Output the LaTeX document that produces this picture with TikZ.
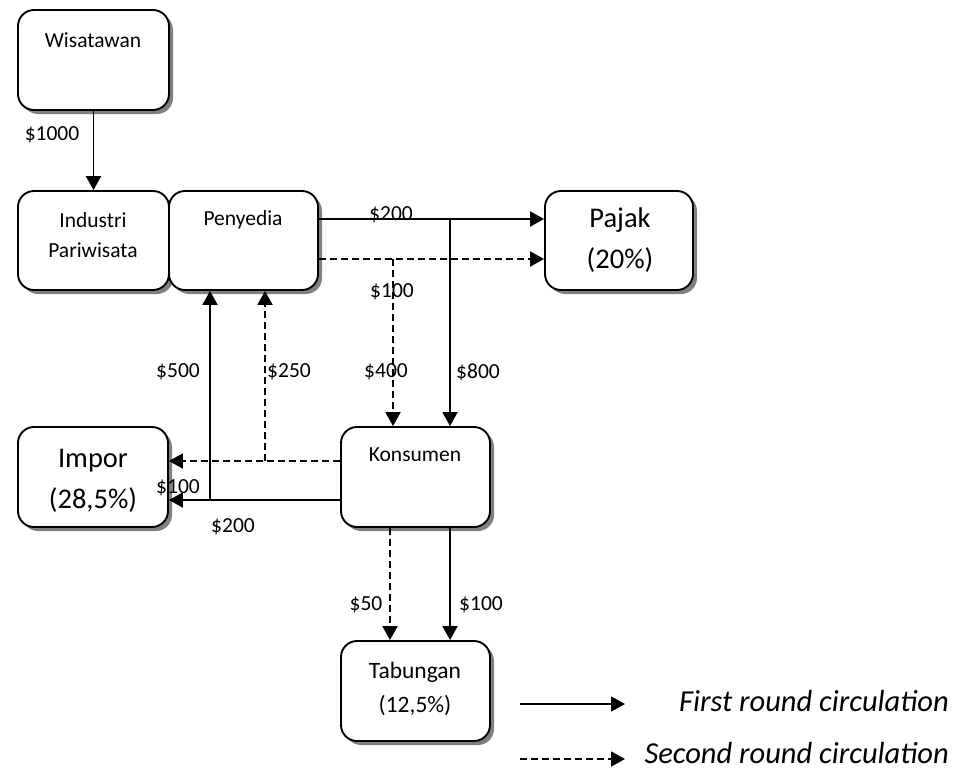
\documentclass[tikz,border=0pt]{standalone}
\usepackage{fontspec}
\setmainfont{Carlito}
\usetikzlibrary{arrows.meta,shadows,calc}
\begin{document}
\begin{tikzpicture}[x=1pt,y=-1pt,
 box/.style={draw, line width=1.9pt, rounded corners=16pt, fill=white,
   drop shadow={shadow xshift=4pt, shadow yshift=-4pt, fill=black!50, opacity=1},
   inner sep=0pt},
 flow/.style={line width=1.9pt, -{Triangle[length=14pt,width=15pt]}},
 dsh/.style={dash pattern=on 7pt off 4pt},
 sm/.style={font=\fontsize{21.5}{30}\selectfont, inner sep=0pt, align=center},
 lg/.style={font=\fontsize{28.5}{41}\selectfont, inner sep=0pt, align=center},
 md/.style={font=\fontsize{23.5}{34}\selectfont, inner sep=0pt, align=center},
 lbl/.style={font=\fontsize{21.5}{24}\selectfont, inner sep=0pt},
 leg/.style={font=\fontsize{30.5}{36}\selectfont\itshape, inner sep=0pt},
]
\useasboundingbox (0,0) rectangle (957,769);

% boxes
\node[box, minimum width=151pt, minimum height=100pt] (wis) at (93.5,60) {};
\node[box, minimum width=151pt, minimum height=99pt] (ind) at (93.5,240.5) {};
\node[box, minimum width=149pt, minimum height=99pt] (pen) at (243.5,240.5) {};
\node[box, minimum width=148pt, minimum height=99pt] (paj) at (619,240.5) {};
\node[box, minimum width=150pt, minimum height=100pt] (imp) at (93,477) {};
\node[box, minimum width=149pt, minimum height=100pt] (kon) at (415.5,477) {};
\node[box, minimum width=149pt, minimum height=100pt] (tab) at (415.5,691) {};

% box texts
\node[sm] (wisT) at (93,40) {Wisatawan};
\node[sm] (indT) at (93,235) {Industri\\Pariwisata};
\node[sm] (penT) at (243,220) {Penyedia};
\node[lg] (pajT) at (620,240) {Pajak\\(20\%)};
\node[lg] (impT) at (93,481) {Impor\\(28,5\%)};
\node[sm] (konT) at (415,455) {Konsumen};
\node[md] (tabT) at (415,689) {Tabungan\\(12,5\%)};

% junctions
\coordinate (j1) at (450,219);
\coordinate (j2) at (393,259);
\coordinate (j3) at (210,500);
\coordinate (j4) at (265,461);
\coordinate (j5) at (390,600);
\coordinate (j6) at (450,600);

% connectors
\draw[flow] (wis.south) -- (ind.north);
\draw[flow] (pen.east |- j1) -- (paj.west |- j1);
\draw[flow] (j1) -- (j1 |- kon.north);
\draw[flow,dsh] (pen.east |- j2) -- (paj.west |- j2);
\draw[flow,dsh] (j2) -- (j2 |- kon.north);
\draw[flow] (kon.west |- j3) -- (imp.east |- j3);
\draw[flow] (j3) -- (j3 |- pen.south);
\draw[flow,dsh] (kon.west |- j4) -- (imp.east |- j4);
\draw[flow,dsh] (j4) -- (j4 |- pen.south);
\draw[flow,dsh] (j5 |- kon.south) -- (j5 |- tab.north);
\draw[flow] (j6 |- kon.south) -- (j6 |- tab.north);

% labels
\node[lbl] (l1000) at (52,135) {\$1000};
\node[lbl] (l200a) at (391,215) {\$200};
\node[lbl] (l100a) at (392,292) {\$100};
\node[lbl] (l500) at (178,372) {\$500};
\node[lbl] (l250) at (289,372) {\$250};
\node[lbl] (l400) at (386,372) {\$400};
\node[lbl] (l800) at (478,372) {\$800};
\node[lbl] (l100b) at (178,488) {\$100};
\node[lbl] (l200b) at (233,527) {\$200};
\node[lbl] (l50) at (366,605) {\$50};
\node[lbl] (l100c) at (481,605) {\$100};

% legend
\coordinate (a1s) at (520,704);
\coordinate (a1e) at (625,704);
\coordinate (a2s) at (520,759);
\coordinate (a2e) at (625,759);
\draw[flow] (a1s) -- (a1e);
\draw[flow,dsh] (a2s) -- (a2e);
\node[leg, anchor=base east] (t1) at (949,711) {First round circulation};
\node[leg, anchor=base east] (t2) at (949,763) {Second round circulation};
\end{tikzpicture}
\end{document}
